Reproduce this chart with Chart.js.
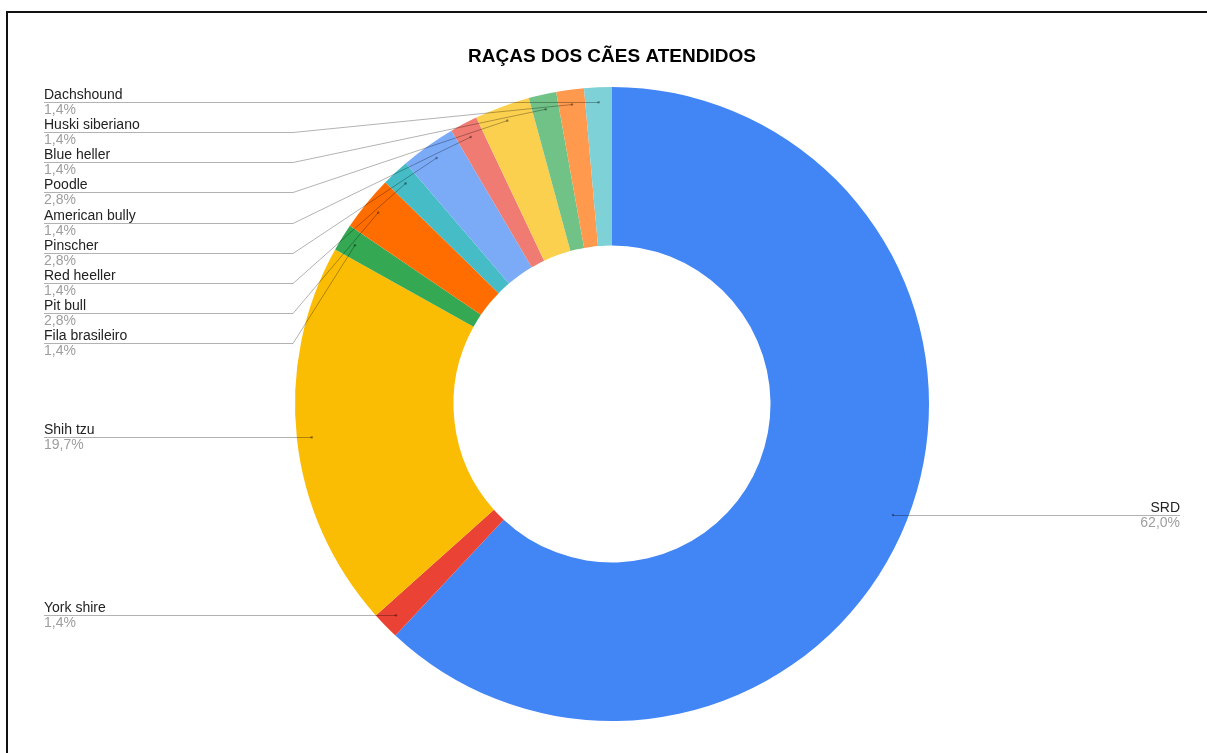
<!DOCTYPE html>
<html>
<head>
<meta charset="utf-8">
<script src="https://cdn.jsdelivr.net/npm/chart.js@4.4.0/dist/chart.umd.min.js"></script>
<style>
  html, body { margin: 0; padding: 0; background: #fff; }
  #wrap { width: 1207px; height: 753px; position: relative; }
</style>
</head>
<body>
<div id="wrap"><canvas id="myChart" width="1207" height="753"></canvas></div>
<script>
const titleText = "RAÇAS DOS CÃES ATENDIDOS";
const breeds = ["SRD", "York shire", "Shih tzu", "Fila brasileiro", "Pit bull", "Red heeller",
  "Pinscher", "American bully", "Poodle", "Blue heller", "Huski siberiano", "Dachshound"];
const counts = [44, 1, 14, 1, 2, 1, 2, 1, 2, 1, 1, 1];
const colors = ["#4285F4", "#EA4335", "#FBBC04", "#34A853", "#FF6D01", "#46BDC6",
  "#7BAAF7", "#F07B72", "#FCD04F", "#71C287", "#FF994D", "#7ED1D7"];

const FONT = '"Liberation Sans", Arial, sans-serif';

// labels with leader lines, like the sheets export
const sideLabels = {
  id: "sideLabels",
  beforeDraw(chart) {
    const ctx = chart.ctx;
    ctx.save();
    ctx.fillStyle = "#111";
    ctx.fillRect(6, 11, 2, chart.height);
    ctx.fillRect(6, 11, chart.width, 2);
    ctx.font = "bold 19px " + FONT;
    ctx.fillStyle = "#000";
    ctx.textAlign = "center";
    ctx.textBaseline = "alphabetic";
    ctx.fillText(titleText, 612, 62);
    ctx.restore();
  },
  afterDraw(chart) {
    const ctx = chart.ctx;
    const meta = chart.getDatasetMeta(0);
    const total = counts.reduce((a, b) => a + b, 0);
    const cx = meta.data[0].x;
    const items = [];
    meta.data.forEach((arc, i) => {
      const p = arc.getProps(["x", "y", "startAngle", "endAngle", "outerRadius"]);
      const mid = (p.startAngle + p.endAngle) / 2;
      const r = p.outerRadius * 0.953;
      items.push({
        name: breeds[i],
        pct: (counts[i] / total * 100).toFixed(1).replace(".", ",") + "%",
        ax: p.x + Math.cos(mid) * r,
        ay: p.y + Math.sin(mid) * r,
      });
    });
    const left = items.filter(it => it.ax < cx).sort((a, b) => a.ay - b.ay);
    const right = items.filter(it => it.ax >= cx).sort((a, b) => a.ay - b.ay);
    [left, right].forEach(side => {
      let prev = -1000;
      side.forEach(it => {
        it.ly = Math.max(it.ay, prev + 30.1);
        prev = it.ly;
      });
    });

    ctx.save();
    ctx.lineWidth = 1;
    ctx.strokeStyle = "rgba(0,0,0,0.3)";
    const drawLine = (it, textX, elbowX) => {
      ctx.beginPath();
      const y = Math.round(it.ly) + 0.5;
      ctx.moveTo(textX, y);
      if (Math.abs(it.ly - it.ay) < 1) {
        ctx.lineTo(it.ax, y);
      } else {
        ctx.lineTo(elbowX, y);
        ctx.lineTo(it.ax, it.ay);
      }
      ctx.stroke();
      ctx.beginPath();
      ctx.fillStyle = "rgba(0,0,0,0.35)";
      ctx.arc(it.ax, it.ay, 1.3, 0, Math.PI * 2);
      ctx.fill();
    };
    const drawText = (it, x, align) => {
      ctx.textAlign = align;
      ctx.textBaseline = "alphabetic";
      ctx.font = "14px " + FONT;
      ctx.fillStyle = "#222";
      ctx.fillText(it.name, x, it.ly - 3);
      ctx.fillStyle = "#9e9e9e";
      ctx.fillText(it.pct, x, it.ly + 12);
    };
    left.forEach(it => { drawLine(it, 44, 293); drawText(it, 44, "left"); });
    right.forEach(it => { drawLine(it, 1180, 931); drawText(it, 1180, "right"); });
    ctx.restore();
  }
};

const data = {
  labels: breeds,
  datasets: [{
    data: counts,
    backgroundColor: colors,
    borderWidth: 0,
    hoverOffset: 0,
  }],
};

const config = {
  type: "doughnut",
  data: data,
  options: {
    responsive: false,
    animation: false,
    events: [],
    cutout: "50%",
    layout: {
      padding: { left: 295, right: 278, top: 87, bottom: 32 },
    },
    plugins: {
      legend: { display: false },
      tooltip: { enabled: false },
      title: { display: false },
    },
  },
  plugins: [sideLabels],
};

new Chart(document.getElementById("myChart"), config);
</script>
</body>
</html>
